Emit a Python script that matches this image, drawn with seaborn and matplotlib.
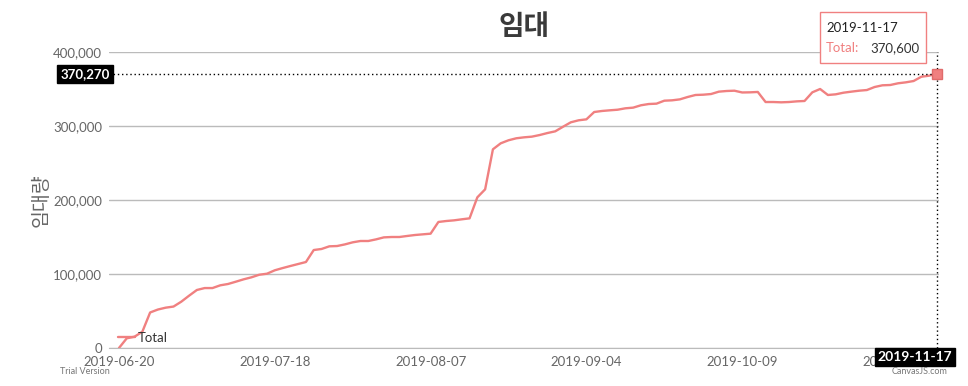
import numpy as np
import matplotlib
matplotlib.use("Agg")
import matplotlib.pyplot as plt
import matplotlib.ticker as mticker
from matplotlib.patches import Rectangle
import seaborn as sns

# data (one point per trading day, categorical x)
total = [0, 13100, 15300, 22000, 48000, 52000, 54500, 56000, 62600, 70700,
         78400, 81000, 81000, 84700, 86500, 89600, 92800, 95500, 99000, 100400,
         105000, 108000, 110800, 113500, 116200, 132400, 133800, 137400, 137800, 140000,
         142800, 144600, 144600, 146800, 149500, 150000, 150000, 151400, 152700, 153600,
         154500, 170300, 171600, 172500, 173900, 175200, 203600, 214400, 268500, 276600,
         280700, 283400, 284700, 285600, 287800, 290500, 292800, 299000, 305000, 307700,
         309000, 318900, 320300, 321200, 322000, 323900, 324800, 328000, 329700, 330200,
         334200, 334700, 336000, 339200, 341900, 342300, 343200, 346400, 347300, 347700,
         345300, 345500, 346000, 332400, 332400, 332000, 332400, 333300, 333800, 345500,
         350000, 341900, 342800, 345000, 346400, 347700, 348600, 352700, 355000, 355400,
         357700, 359000, 360800, 366600, 368000, 370600]
tick_pos = [0, 20, 40, 60, 80, 100]
tick_labels = ["2019-06-20", "2019-07-18", "2019-08-07", "2019-09-04", "2019-10-09", "2019-11-11"]
last_date = "2019-11-17"
cursor_value = 370270

line_color = "#F08080"

sns.set_style("white")
plt.rcParams["font.family"] = ["Lato", "Noto Sans CJK KR", "DejaVu Sans"]

W, H = 968, 386
fig = plt.figure(figsize=(W / 100, H / 100), dpi=100)
ax = fig.add_axes([109 / W, 1 - 348 / H, (939 - 109) / W, (348 - 52) / H])

x = np.arange(len(total))
sns.lineplot(x=x, y=total, ax=ax, color=line_color, linewidth=1.7, label="Total")
ax.plot(x[-1], total[-1], marker="s", markersize=7, color=line_color,
        markeredgecolor="#e06b6b", zorder=5, clip_on=False)

ax.set_xlim(-1.28, len(total) - 1 + 0.26)
ax.set_ylim(0, 400000)
ax.yaxis.set_major_locator(mticker.MultipleLocator(100000))
ax.yaxis.set_major_formatter(mticker.FuncFormatter(lambda v, p: f"{int(v):,}"))
ax.set_xticks(tick_pos)
ax.set_xticklabels(tick_labels)
ax.grid(axis="y", color="#BBBBBB", linewidth=1)
for s in ["top", "right", "left"]:
    ax.spines[s].set_visible(False)
ax.spines["bottom"].set_color("#BBBBBB")
ax.tick_params(axis="x", length=5, color="#BBBBBB", labelsize=9.5, labelcolor="#666666", pad=1)
ax.tick_params(axis="y", length=0, labelsize=9.5, labelcolor="#666666", pad=5)

ax.set_title("임대", fontsize=20, fontweight="bold", color="#3A3A3A", pad=12)
ax.set_ylabel("임대량", fontsize=14, color="#666666")
ax.yaxis.set_label_coords(-0.072, 0.5)

leg = ax.legend(loc="center left", bbox_to_anchor=(118 / W, 1 - 338 / H),
                bbox_transform=fig.transFigure, frameon=False, fontsize=9.5,
                handlelength=1.3, handletextpad=0.2, borderpad=0, borderaxespad=0)
for t in leg.get_texts():
    t.set_color("#333333")

# crosshair
ax.axhline(cursor_value, color="black", linestyle=(0, (1, 2)), linewidth=1, zorder=4)
ax.axvline(x[-1], color="black", linestyle=(0, (1, 2)), linewidth=1, zorder=4)
fig.text(110 / W, 1 - 74 / H, f"{cursor_value:,}", ha="right", va="center",
         fontsize=9.5, fontweight="bold", color="white",
         bbox=dict(boxstyle="square,pad=0.25", fc="black", ec="black"))
fig.text(915 / W, 1 - 357 / H, last_date, ha="center", va="center",
         fontsize=10, fontweight="bold", color="white",
         bbox=dict(boxstyle="square,pad=0.2", fc="black", ec="black"))

# tooltip
fig.patches.append(Rectangle((820 / W, 1 - 63 / H), 106 / W, 51 / H,
                             transform=fig.transFigure, fc="white", ec=line_color, lw=1, zorder=10))
fig.text(826 / W, 1 - 28 / H, last_date, fontsize=9.5, color="#222222", va="center", zorder=11)
fig.text(826 / W, 1 - 48 / H, "Total:", fontsize=9.5, color=line_color, va="center", zorder=11)
fig.text(870 / W, 1 - 48 / H, f"{total[-1]:,}", fontsize=9.5, color="#333333", va="center", zorder=11)

fig.text(60 / W, 1 - 371 / H, "Trial Version", fontsize=6.5, color="#777777", va="center")
fig.text(947 / W, 1 - 372 / H, "CanvasJS.com", fontsize=6.5, color="#777777", va="center", ha="right")

fig.savefig("out.png", dpi=100)
